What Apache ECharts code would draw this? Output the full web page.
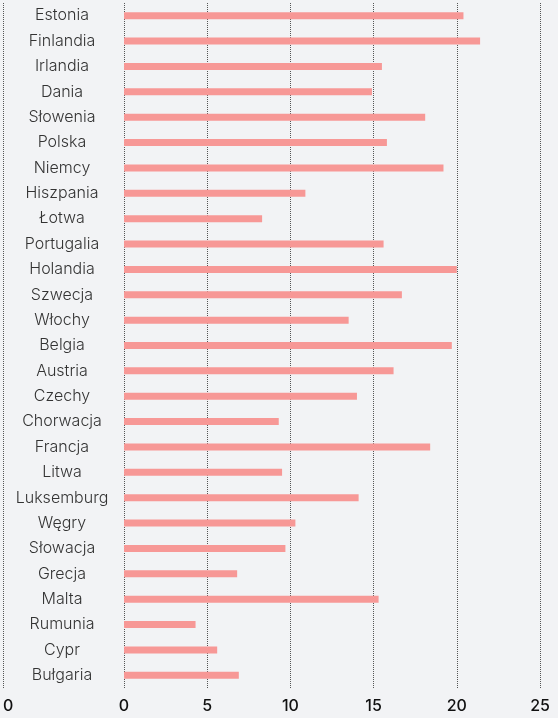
<!DOCTYPE html>
<html>
<head>
<meta charset="utf-8">
<script src="https://cdn.jsdelivr.net/npm/echarts@6/dist/echarts.min.js"></script>
<style>
html,body{margin:0;padding:0;background:#f2f3f5;}
#c{width:558px;height:718px;}
</style>
</head>
<body>
<div id="c"></div>
<script>
const categories = ["Estonia","Finlandia","Irlandia","Dania","Słowenia","Polska","Niemcy","Hiszpania","Łotwa","Portugalia","Holandia","Szwecja","Włochy","Belgia","Austria","Czechy","Chorwacja","Francja","Litwa","Luksemburg","Węgry","Słowacja","Grecja","Malta","Rumunia","Cypr","Bułgaria"];
const values = [20.4,21.4,15.5,14.9,18.1,15.8,19.2,10.9,8.3,15.6,20.0,16.7,13.5,19.7,16.2,14.0,9.3,18.4,9.5,14.1,10.3,9.7,6.8,15.3,4.3,5.6,6.9];
const xTicks = [0,5,10,15,20,25];

const chart = echarts.init(document.getElementById('c'), null, {renderer:'canvas'});
const grid = {top:3, bottom:30};
chart.setOption({
  backgroundColor:'#f2f3f5',
  animation:false,
  grid:[
    {left:124, right:18, top:grid.top, bottom:grid.bottom},
    {left:1, width:123, top:grid.top, bottom:grid.bottom}
  ],
  xAxis:[
    {gridIndex:0, type:'value', min:xTicks[0], max:xTicks[xTicks.length-1], interval:5,
     axisLine:{show:false}, axisTick:{show:false},
     axisLabel:{margin:10, color:'#111', fontSize:16, fontWeight:500, fontFamily:'Inter'},
     splitLine:{show:true, lineStyle:{type:[1,1], color:'#555', width:1}}},
    {gridIndex:1, type:'value', min:0, max:1, interval:1,
     axisLine:{show:false}, axisTick:{show:false},
     axisLabel:{margin:10, color:'#111', fontSize:16, fontWeight:500, fontFamily:'Inter', showMaxLabel:false, align:'left'},
     splitLine:{show:true, lineStyle:{type:[1,1], color:'#555', width:1}}}
  ],
  yAxis:[
    {gridIndex:0, type:'category', data:categories, inverse:true,
     axisLine:{show:false}, axisTick:{show:false},
     axisLabel:{align:'center', margin:62, color:'#333', fontSize:16, fontWeight:300, fontFamily:'Inter'}},
    {gridIndex:1, type:'category', data:categories, inverse:true, show:false}
  ],
  series:[{
    type:'bar', xAxisIndex:0, yAxisIndex:0, data:values, barWidth:7,
    itemStyle:{color:'#f79896'}
  }]
});
</script>
</body>
</html>
